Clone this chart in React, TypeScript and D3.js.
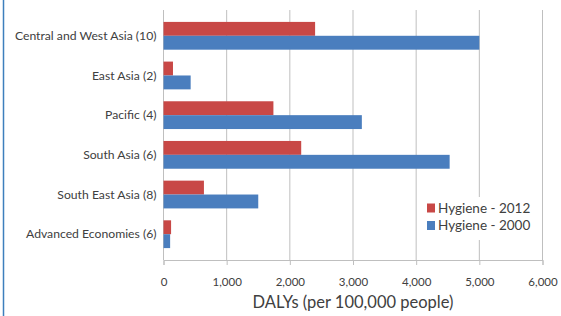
import * as d3 from "d3";
import { useEffect, useRef } from "react";

const categories = [
  "Central and West Asia (10)",
  "East Asia (2)",
  "Pacific (4)",
  "South Asia (6)",
  "South East Asia (8)",
  "Advanced Economies (6)"
];
const hygiene2012 = [2400, 150, 1740, 2180, 640, 120];
const hygiene2000 = [5000, 430, 3140, 4530, 1500, 105];
const seriesNames = ["Hygiene - 2012", "Hygiene - 2000"];
const xTicks = [0, 1000, 2000, 3000, 4000, 5000, 6000];

const RED = "#c84846";
const BLUE = "#4a7ebe";
const FONT = "Lato, 'Open Sans', sans-serif";

export default function App({
  width = 561,
  height = 316,
  marginTop = 10,
  marginRight = 18.5,
  marginBottom = 56,
  marginLeft = 163.5
}: {
  width?: number,
  height?: number,
  marginTop?: number,
  marginRight?: number,
  marginBottom?: number,
  marginLeft?: number
}) {
  const axisx: any = useRef();

  const x: any = d3.scaleLinear([0, 6000], [marginLeft, width - marginRight]);
  const y: any = d3.scaleBand(categories, [marginTop, height - marginBottom]).padding(0.3);
  const half = y.bandwidth() / 2;

  useEffect(() => {
    void d3.select(axisx.current)
      .call(d3.axisBottom(x).tickValues(xTicks).tickSize(5).tickPadding(13).tickFormat(d3.format(",")))
      .call(g => g.select(".domain").attr("stroke", "#bfbfbf"))
      .call(g => g.selectAll(".tick line").attr("stroke", "#bfbfbf"))
      .call(g => g.selectAll(".tick text")
        .attr("fill", "#404040")
        .attr("font-size", 11.5)
        .attr("font-family", FONT))
  }, [x])

  return (
    <svg width={width} height={height} style={{ position: "absolute", left: 0, top: 0 }}>
      <rect width={width} height={height} fill="white" />
      <line x1={3.5} x2={3.5} y1={0} y2={height} stroke="#3d7fbd" strokeWidth={1.5} />
      <g stroke="#bfbfbf" strokeWidth={1}>
        {xTicks.map(t => (
          <line key={t} x1={x(t)} x2={x(t)} y1={marginTop} y2={height - marginBottom} />
        ))}
      </g>
      <g
        ref={axisx}
        transform={`translate(0, ${height - marginBottom})`}
      />
      <g fill={RED}>
        {categories.map((c, i) => (
          <rect key={c} x={x(0)} y={y(c)} width={x(hygiene2012[i]) - x(0)} height={half} />
        ))}
      </g>
      <g fill={BLUE}>
        {categories.map((c, i) => (
          <rect key={c} x={x(0)} y={y(c) + half} width={x(hygiene2000[i]) - x(0)} height={half} />
        ))}
      </g>
      <g fontFamily={FONT} fontSize={12.2} fill="#404040" textAnchor="end">
        {categories.map(c => (
          <text key={c} x={marginLeft - 7} y={y(c) + half} dy="0.35em">{c}</text>
        ))}
      </g>
      <text
        x={(x(0) + x(6000)) / 2}
        y={height - 8}
        textAnchor="middle"
        fontFamily={FONT}
        fontSize={16.5}
        fill="#404040">
        DALYs (per 100,000 people)
      </text>
      <g transform="translate(422, 197)">
        <rect width={114} height={43} fill="white" />
        {seriesNames.map((s, i) => (
          <g key={s} transform={`translate(5, ${11 + i * 17.5})`}>
            <rect x={0} y={-4.5} width={8} height={9} fill={i === 0 ? RED : BLUE} />
            <text x={11} y={0} dy="0.35em" fontFamily={FONT} fontSize={13.5} fill="#404040">{s}</text>
          </g>
        ))}
      </g>
    </svg>
  )
}
